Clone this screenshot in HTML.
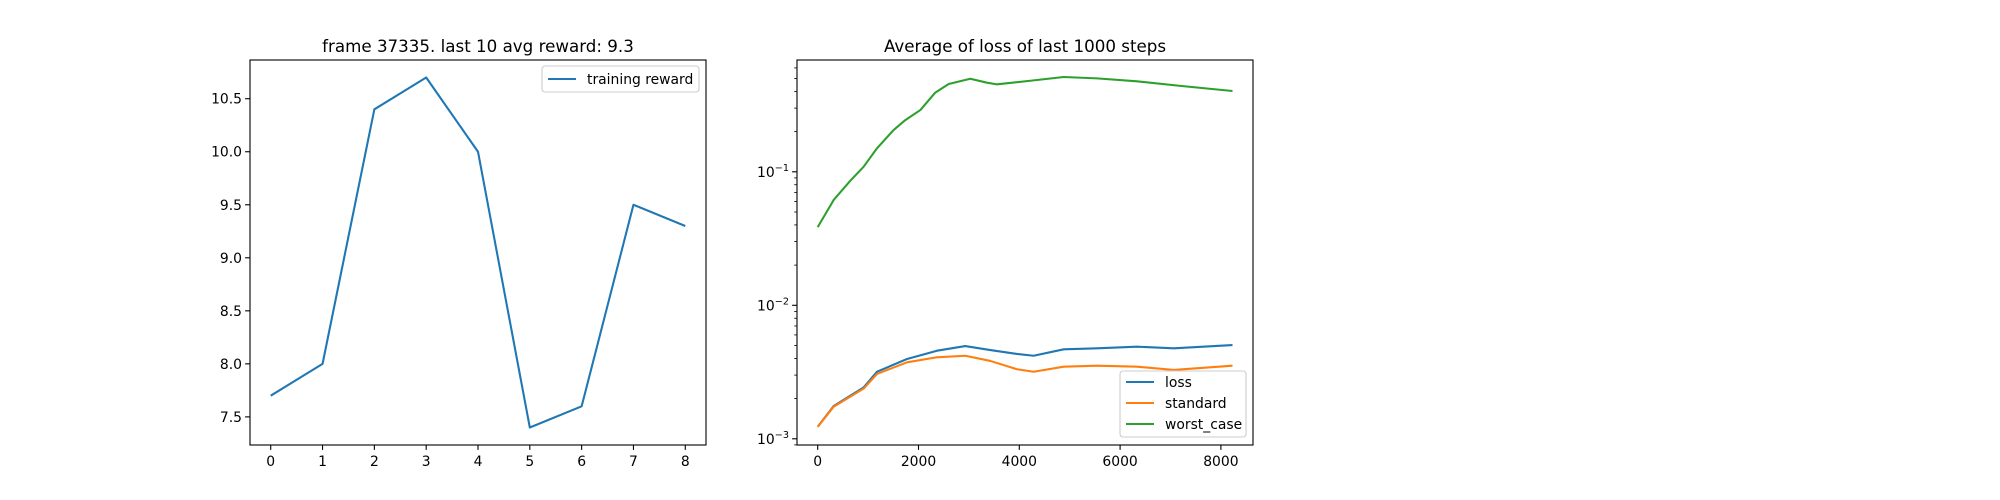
<!DOCTYPE html>
<html><head><meta charset="utf-8"><style>
html,body{margin:0;padding:0;background:#fff;}
svg{display:block;font-family:"DejaVu Sans","Liberation Sans",sans-serif;}
</style></head><body>
<svg id="fig" width="2000" height="500" viewBox="0 0 2000 500"></svg>
<script>
// Left chart data
const rewardEpisodes = [0,1,2,3,4,5,6,7,8];
const rewardValues = [7.7,8.0,10.4,10.7,10.0,7.4,7.6,9.5,9.3];
const rewardYTicks = [7.5,8.0,8.5,9.0,9.5,10.0,10.5];
const rewardXTicks = [0,1,2,3,4,5,6,7,8];
// Right chart data
const lossStepsWorst = [0,317,650,910,1177,1508,1738,2036,2333,2599,3028,3359,3558,4218,4881,5542,6335,7195,8230];
const worstValues = [0.0385,0.0615,0.086,0.109,0.150,0.206,0.244,0.290,0.392,0.455,0.498,0.465,0.452,0.481,0.513,0.501,0.476,0.440,0.403];
const lossSteps = [0,317,913,1177,1772,2367,2929,3425,3954,4284,4881,5542,6335,7065,8230];
const lossValues = [0.00123,0.00176,0.00243,0.00318,0.00396,0.00457,0.00495,0.00462,0.00432,0.00419,0.00468,0.00476,0.00490,0.00476,0.00504];
const standardValues = [0.00123,0.00174,0.00238,0.00306,0.00374,0.00408,0.00419,0.00383,0.00332,0.00318,0.00347,0.00353,0.00347,0.00328,0.00353];
const lossXTicks = [0,2000,4000,6000,8000];
const lossYExp = [-3,-2,-1];

const NS='http://www.w3.org/2000/svg';
const svg=document.getElementById('fig');
function mk(tag,attrs,parent){const e=document.createElementNS(NS,tag);for(const k in attrs)e.setAttribute(k,attrs[k]);(parent||svg).appendChild(e);return e;}

// ---------- Left axes ----------
const L={x0:250,x1:706,y0:60,y1:445};
const lx=v=>L.x0+(v-(-0.4))/(8.8)*(L.x1-L.x0);
const ly=v=>L.y1-(v-7.235)/(10.865-7.235)*(L.y1-L.y0);
const g1=mk('g',{});


const t1=mk('text',{x:(L.x0+L.x1)/2,y:52,'text-anchor':'middle','font-size':'16.7'},g1);
t1.textContent='frame 37335. last 10 avg reward: 9.3';


rewardXTicks.forEach(v=>{
  const x=lx(v);
  const tk=mk('line',{x1:x,x2:x,y1:L.y1,y2:L.y1+4.9,stroke:'#000','stroke-width':1.1},g1);
  
  
  const t=mk('text',{x:x,y:L.y1+21,'text-anchor':'middle','font-size':'13.9'},g1);
  t.textContent=String(v);
  
  
});
rewardYTicks.forEach(v=>{
  const y=ly(v);
  const tk=mk('line',{x1:L.x0-4.9,x2:L.x0,y1:y,y2:y,stroke:'#000','stroke-width':1.1},g1);
  
  
  const t=mk('text',{x:L.x0-8,y:y+5,'text-anchor':'end','font-size':'13.9'},g1);
  t.textContent=v.toFixed(1);
  
  
});
const rl=mk('polyline',{points:rewardEpisodes.map((e,i)=>lx(e)+','+ly(rewardValues[i])).join(' '),fill:'none',stroke:'#1f77b4','stroke-width':2.08,'stroke-linejoin':'round'},g1);


const f1=mk('rect',{x:L.x0,y:L.y0,width:L.x1-L.x0,height:L.y1-L.y0,fill:'none',stroke:'#000','stroke-width':1.1},g1);


const lg1=mk('g',{},g1);


mk('rect',{x:542,y:66,width:157,height:26,rx:3,fill:'#fff','fill-opacity':0.8,stroke:'#ccc','stroke-width':1.1},lg1);
mk('line',{x1:548,x2:576,y1:79,y2:79,stroke:'#1f77b4','stroke-width':2.08},lg1);
const lt1=mk('text',{x:587,y:84,'font-size':'13.9'},lg1);
lt1.textContent='training reward';



// ---------- Right axes ----------
const R={x0:797,x1:1253,y0:60,y1:445};
const rx=v=>817.7+v*0.0504;
const ry=v=>438.8-(Math.log10(v)+3)*133.5;
const g2=mk('g',{});


const t2=mk('text',{x:(R.x0+R.x1)/2,y:52,'text-anchor':'middle','font-size':'16.7'},g2);
t2.textContent='Average of loss of last 1000 steps';


lossXTicks.forEach(v=>{
  const x=rx(v);
  const tk=mk('line',{x1:x,x2:x,y1:R.y1,y2:R.y1+4.9,stroke:'#000','stroke-width':1.1},g2);
  
  
  const t=mk('text',{x:x,y:R.y1+21,'text-anchor':'middle','font-size':'13.9'},g2);
  t.textContent=String(v);
  
  
});
lossYExp.forEach(p=>{
  const y=ry(Math.pow(10,p));
  const tk=mk('line',{x1:R.x0-4.9,x2:R.x0,y1:y,y2:y,stroke:'#000','stroke-width':1.1},g2);
  
  
  const t=mk('text',{x:R.x0-8,y:y+5,'text-anchor':'end','font-size':'13.9'},g2);
  
  
  t.appendChild(document.createTextNode('10'));
  const s=mk('tspan',{dy:-6,'font-size':'9.7'},t);
  s.textContent='\u2212'+Math.abs(p);
  for(let m=2;m<=9;m++){
    for(const base of [p,p-1]){
      const yy=ry(m*Math.pow(10,base));
      if(yy>=R.y0&&yy<=R.y1&&(base===p||p===-3)){
        const mt=mk('line',{x1:R.x0-2.8,x2:R.x0,y1:yy,y2:yy,stroke:'#000','stroke-width':0.8},g2);
        
        
      }
    }
  }
});
function series(xs,ys,color,name){
  const p=mk('polyline',{points:xs.map((x,i)=>rx(x)+','+ry(ys[i])).join(' '),fill:'none',stroke:color,'stroke-width':2.08,'stroke-linejoin':'round'},g2);
  
  
}
series(lossSteps,lossValues,'#1f77b4','loss-line');
series(lossSteps,standardValues,'#ff7f0e','standard-line');
series(lossStepsWorst,worstValues,'#2ca02c','worst-case-line');
const f2=mk('rect',{x:R.x0,y:R.y0,width:R.x1-R.x0,height:R.y1-R.y0,fill:'none',stroke:'#000','stroke-width':1.1},g2);


const lg2=mk('g',{},g2);


mk('rect',{x:1120,y:371,width:126,height:66,rx:3,fill:'#fff','fill-opacity':0.8,stroke:'#ccc','stroke-width':1.1},lg2);
[['loss','#1f77b4'],['standard','#ff7f0e'],['worst_case','#2ca02c']].forEach((d,i)=>{
  const y=382+i*21;
  mk('line',{x1:1126,x2:1154,y1:y,y2:y,stroke:d[1],'stroke-width':2.08},lg2);
  const t=mk('text',{x:1165,y:y+5,'font-size':'13.9'},lg2);
  t.textContent=d[0];
  
  
});
</script>
</body></html>
